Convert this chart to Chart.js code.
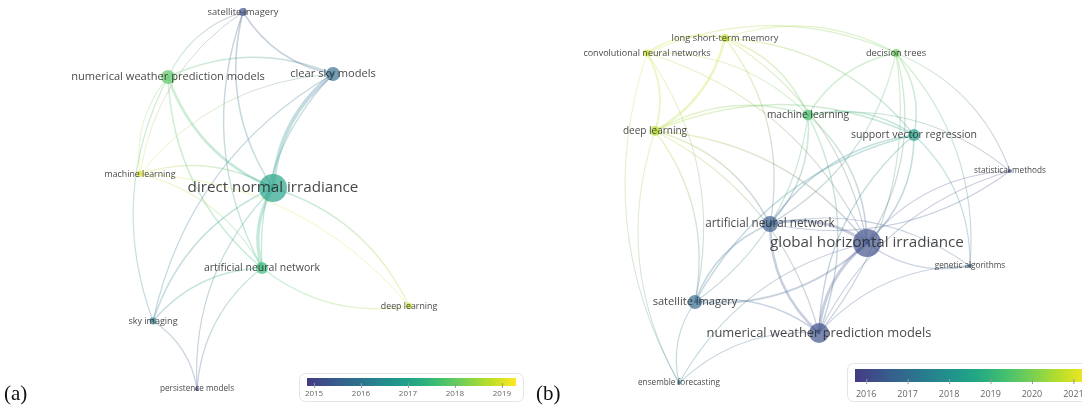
<!DOCTYPE html>
<html><head><meta charset="utf-8">
<script src="https://cdn.jsdelivr.net/npm/chart.js@4.4.1/dist/chart.umd.min.js"></script>
<style>html,body{margin:0;padding:0;background:#fff;overflow:hidden}#wrap{width:1082px;height:408px;position:relative}</style>
</head><body><div id="wrap"><canvas id="c" width="1082" height="408"></canvas></div>
<script>
// ---------- Panel (a) ----------
const termsA = ['satellite imagery','numerical weather prediction models','clear sky models','machine learning','direct normal irradiance','artificial neural network','deep learning','sky imaging','persistence models'];
const xA = [243,168,333,140,273,262,409,153,197];
const yA = [12,77,74,174,188,268,306,321,389];
const weightA = [8,25,25,5,100,18,5,6,2];
const yearA = [2015.2,2017.9,2015.8,2019.0,2017.0,2017.5,2018.9,2016.1,2015.1];
const linksA = [[1,2,1],[4,2,4],[4,1,2.5],[4,0,1.2],[5,4,3.5],[4,6,1],[6,5,0.8],[2,0,1],[1,0,0.7],[5,0,1],[3,0,0.4],[5,1,1.2],[3,1,0.5],[7,1,0.7],[5,2,0.8],[7,2,0.8],[3,2,0.4],[7,5,0.8],[8,5,0.8],[7,8,0.7],[8,4,0.6],[7,4,0.9],[3,4,0.9],[3,5,0.5],[3,6,0.4]];
const yearTicksA = [2015,2016,2017,2018,2019];
const yearRangeA = [2014.85,2019.3];
// ---------- Panel (b) ----------
const termsB = ['long short-term memory','convolutional neural networks','decision trees','machine learning','deep learning','support vector regression','statistical methods','artificial neural network','global horizontal irradiance','genetic algorithms','satellite imagery','numerical weather prediction models','ensemble forecasting'];
const xB = [725,647,896,808,655,914,1010,770,867,970,695,819,679];
const yB = [38,53,53,115,131,135,171,224,243,266,302,333,383];
const weightB = [8,6,8,15,13,18,2,33,100,2,25,51,2];
const yearB = [2020.8,2020.9,2019.8,2019.4,2020.6,2018.3,2016.1,2016.5,2016.2,2016.8,2016.9,2016.25,2017.3];
const linksB = [[7,8,3],[11,8,3],[8,10,1.5],[5,8,1.2],[3,8,1.2],[4,8,1],[0,8,0.8],[1,8,0.7],[2,8,0.8],[8,6,0.7],[9,8,0.8],[12,8,0.6],
[11,7,2.5],[10,7,1.2],[3,7,1],[7,5,1],[4,7,1],[0,7,0.8],[7,9,0.6],[6,7,0.5],[2,7,0.6],
[10,11,1.2],[12,11,0.6],[11,5,1],[3,11,1],[4,11,0.8],[11,9,0.6],[11,6,0.5],
[12,10,0.6],[4,10,0.8],[3,10,0.7],[10,5,0.8],[1,10,0.5],
[0,4,2.5],[1,4,1.5],[4,3,1],[4,5,0.8],[1,0,1],[0,3,1],[0,5,0.8],[0,2,0.8],[1,2,0.7],[3,2,1],[3,5,1.2],[2,5,1],[2,6,0.5],[2,9,0.6],[5,9,0.6],[3,6,0.5],[12,4,0.5],[12,1,0.4],[1,3,0.6],[2,11,0.6]];
const yearTicksB = [2016,2017,2018,2019,2020,2021];
const yearRangeB = [2015.73,2021.4];

// ---------- helpers ----------
const VIR = ['#440154','#482475','#414487','#355f8d','#2a788e','#21918c','#22a884','#44bf70','#7ad151','#bddf26','#fde725']
  .map(h=>[1,3,5].map(i=>parseInt(h.substr(i,2),16)));
const OFF = 0.17;
function pal(t){
  t=Math.max(0,Math.min(1,t));
  const v=(OFF+(1-OFF)*t)*10, i=Math.min(9,Math.floor(v)), f=v-i;
  return [0,1,2].map(k=>Math.round(VIR[i][k]+(VIR[i+1][k]-VIR[i][k])*f));
}
function yearColor(y,range,alpha){
  const c=pal((y-range[0])/(range[1]-range[0]));
  return `rgba(${c[0]},${c[1]},${c[2]},${alpha})`;
}
const radius = w => Math.sqrt(w)*1.4;
const fontSize = w => 7 + Math.sqrt(w)*0.82;

function makeSet(terms,xs,ys,ws,yrs,range){
  return {
    data: terms.map((t,i)=>({x:xs[i],y:ys[i],r:radius(ws[i])})),
    backgroundColor: yrs.map(y=>yearColor(y,range,0.68)),
    borderWidth:0, clip:false
  };
}

const panels = [
  {terms:termsA,x:xA,y:yA,w:weightA,yr:yearA,links:linksA,range:yearRangeA,ticks:yearTicksA,
   bar:{box:[299,373,224,28],x0:307,x1:516,y0:378,y1:386,ly:394,fs:8}},
  {terms:termsB,x:xB,y:yB,w:weightB,yr:yearB,links:linksB,range:yearRangeB,ticks:yearTicksB,
   bar:{box:[847,363,260,38],x0:855,x1:1090,y0:369,y1:382,ly:394,fs:9}}
];

const netPlugin = {
  id:'net',
  beforeDatasetsDraw(chart){
    const ctx=chart.ctx, sx=chart.scales.x, sy=chart.scales.y;
    panels.forEach(p=>{
      p.links.forEach(([i,j,w])=>{
        const x1=sx.getPixelForValue(p.x[i]), y1=sy.getPixelForValue(p.y[i]);
        const x2=sx.getPixelForValue(p.x[j]), y2=sy.getPixelForValue(p.y[j]);
        const dx=x2-x1, dy=y2-y1, k=0.22;
        const cx=(x1+x2)/2+dy*k, cy=(y1+y2)/2-dx*k;
        const g=ctx.createLinearGradient(x1,y1,x2,y2);
        g.addColorStop(0,yearColor(p.yr[i],p.range,0.28));
        g.addColorStop(1,yearColor(p.yr[j],p.range,0.28));
        ctx.save();
        ctx.strokeStyle=g; ctx.lineWidth=0.7+w*0.75; ctx.lineCap='round';
        ctx.beginPath(); ctx.moveTo(x1,y1); ctx.quadraticCurveTo(cx,cy,x2,y2); ctx.stroke();
        ctx.restore();
      });
    });
  },
  afterDatasetsDraw(chart){
    const ctx=chart.ctx, sx=chart.scales.x, sy=chart.scales.y;
    panels.forEach(p=>{
      p.terms.forEach((t,i)=>{
        ctx.save();
        ctx.font=`${fontSize(p.w[i]).toFixed(1)}px "Open Sans", sans-serif`;
        ctx.fillStyle='rgba(40,40,40,0.85)';
        ctx.textAlign='center'; ctx.textBaseline='middle';
        ctx.fillText(t,sx.getPixelForValue(p.x[i]),sy.getPixelForValue(p.y[i]));
        ctx.restore();
      });
      // colour bar
      const b=p.bar;
      ctx.save();
      ctx.strokeStyle='#e4e4e4'; ctx.lineWidth=1; ctx.fillStyle='#fff';
      ctx.beginPath(); ctx.roundRect(b.box[0]+0.5,b.box[1]+0.5,b.box[2],b.box[3],6); ctx.fill(); ctx.stroke();
      const g=ctx.createLinearGradient(b.x0,0,b.x1,0);
      for(let s=0;s<=20;s++){const c=pal(s/20); g.addColorStop(s/20,`rgb(${c[0]},${c[1]},${c[2]})`);}
      ctx.fillStyle=g; ctx.fillRect(b.x0,b.y0,b.x1-b.x0,b.y1-b.y0);
      ctx.font=`${b.fs}px "Open Sans", sans-serif`; ctx.fillStyle='#666';
      ctx.textAlign='center'; ctx.textBaseline='middle'; ctx.strokeStyle='#999';
      p.ticks.forEach(y=>{
        const px=b.x0+(y-p.range[0])/(p.range[1]-p.range[0])*(b.x1-b.x0);
        ctx.beginPath(); ctx.moveTo(px+0.5,b.y1-3); ctx.lineTo(px+0.5,b.y1+2); ctx.stroke();
        ctx.fillText(String(y),px,b.ly);
      });
      ctx.restore();
    });
    ctx.save();
    ctx.font='21px "Liberation Serif", "Times New Roman", serif'; ctx.fillStyle='#111';
    ctx.textBaseline='alphabetic'; ctx.textAlign='left';
    ctx.fillText('(a)',4,400); ctx.fillText('(b)',536,400);
    ctx.restore();
  }
};

const chart = new Chart(document.getElementById('c'),{
  type:'bubble',
  data:{datasets:panels.map(p=>makeSet(p.terms,p.x,p.y,p.w,p.yr,p.range))},
  options:{
    responsive:false, animation:false, events:[],
    layout:{padding:0},
    plugins:{legend:{display:false},tooltip:{enabled:false}},
    scales:{
      x:{type:'linear',min:0,max:1082,display:false},
      y:{type:'linear',min:0,max:408,reverse:true,display:false}
    }
  },
  plugins:[netPlugin]
});
// The bubble controller insets the chart area by the largest radius; widen the
// scale ranges so one layout unit stays one canvas pixel.
const ca = chart.chartArea;
chart.options.scales.x.min = ca.left;  chart.options.scales.x.max = ca.right;
chart.options.scales.y.min = ca.top;   chart.options.scales.y.max = ca.bottom;
chart.update();
</script></body></html>
